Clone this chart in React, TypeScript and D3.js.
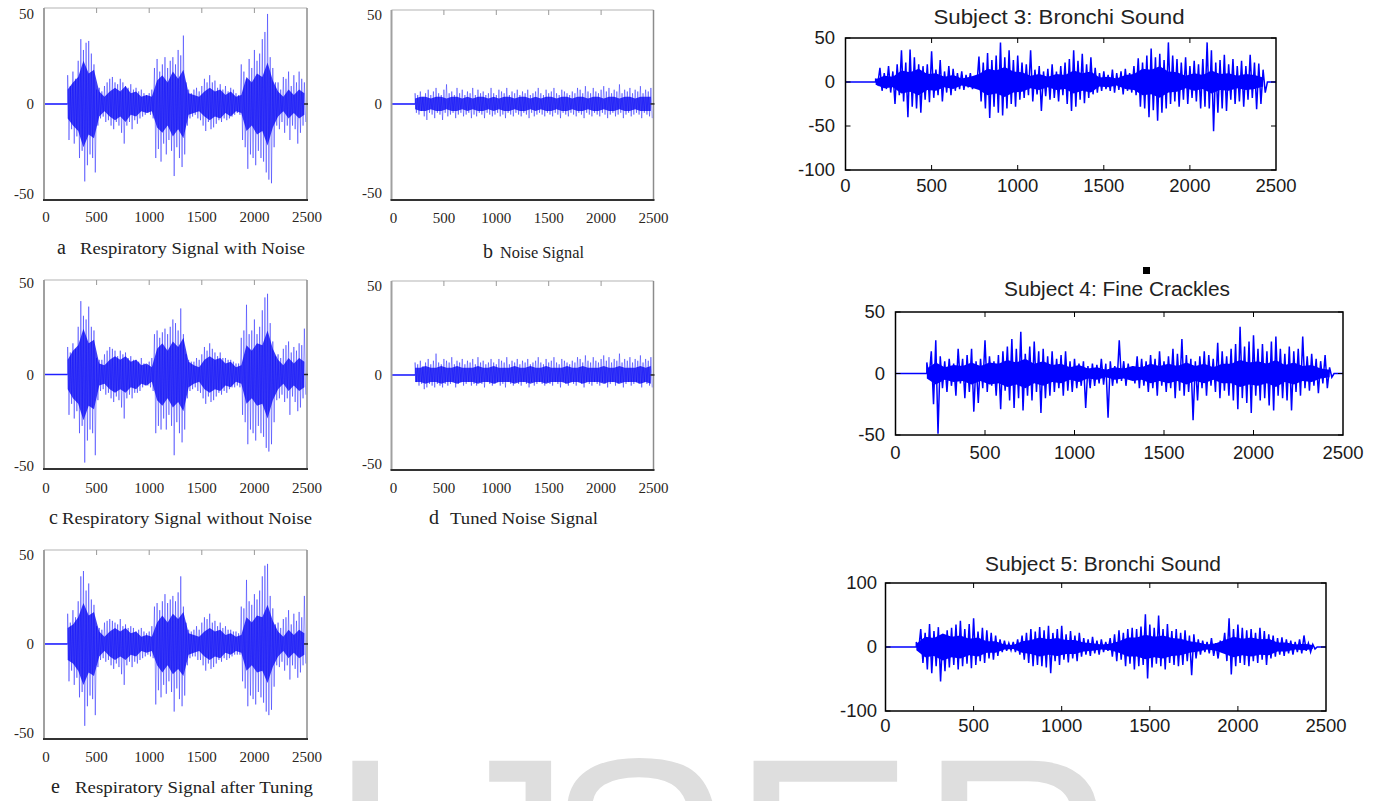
import React from 'react';
import * as d3 from 'd3';

// sample index ticks shared by every panel
const X_TICKS = [0, 500, 1000, 1500, 2000, 2500];
const LEFT_START = 225;   // first non-zero sample, left figures
const RIGHT_START = 175;  // first non-zero sample, subject plots
const RIGHT_END = 2450;
const BIN = 25;           // samples per min/max bin
const CORE_BIN = 50;

// a  Respiratory Signal with Noise  (max / min per bin, dense band half-width)
const aHi = [16, 10, 18, 14, 24, 36, 30, 34, 35, 28,
  22, 8, 9, 7, 10, 12, 14, 15, 12, 11,
  14, 12, 10, 9, 11, 8, 9, 7, 8, 6,
  5, 6, 8, 20, 25, 18, 22, 26, 20, 24,
  26, 22, 30, 27, 38, 12, 8, 6, 8, 9,
  7, 10, 14, 12, 16, 12, 13, 9, 11, 8,
  10, 7, 9, 8, 6, 5, 22, 18, 14, 25,
  20, 30, 24, 28, 36, 40, 50, 26, 20, 12,
  12, 8, 15, 14, 18, 10, 16, 12, 18, 14, 12];
const aLo = [-20, -14, -22, -18, -30, -26, -43, -34, -28, -30,
  -38, -12, -8, -7, -10, -9, -12, -14, -10, -12,
  -16, -22, -12, -10, -14, -9, -11, -8, -7, -6,
  -5, -6, -8, -30, -25, -32, -22, -28, -20, -26,
  -40, -24, -30, -35, -28, -12, -8, -7, -6, -8,
  -9, -12, -15, -10, -14, -13, -11, -9, -10, -8,
  -9, -8, -7, -6, -5, -6, -20, -24, -36, -28,
  -30, -34, -26, -30, -32, -38, -42, -44, -24, -12,
  -14, -10, -16, -12, -20, -12, -14, -22, -16, -12, -10];
const aCore = [8, 12, 15, 24, 17, 19, 7, 4, 7, 9, 7, 10, 6, 7, 4, 5, 4, 13, 16, 12, 18, 14, 19,
  6, 5, 4, 7, 9, 7, 8, 5, 7, 4, 5, 15, 12, 17, 15, 23, 13, 7, 4, 8, 5, 8, 6];

// b  Noise Signal
const bHi = [6, 5, 7, 4, 6, 8, 5, 7, 9, 6,
  5, 8, 11, 6, 7, 5, 9, 6, 8, 5,
  7, 6, 9, 5, 8, 6, 7, 5, 6, 9,
  6, 5, 8, 7, 6, 9, 5, 7, 6, 8,
  5, 7, 6, 8, 5, 6, 7, 9, 6, 5,
  8, 6, 7, 9, 6, 5, 8, 7, 6, 5,
  7, 6, 9, 8, 6, 10, 7, 6, 9, 7,
  6, 8, 10, 7, 9, 6, 8, 7, 11, 6,
  8, 7, 9, 6, 8, 7, 10, 6, 8, 7, 9];
const bLo = [-5, -6, -4, -7, -9, -5, -6, -8, -5, -6,
  -9, -5, -7, -6, -5, -8, -6, -5, -7, -6,
  -5, -8, -6, -7, -5, -6, -8, -5, -6, -7,
  -6, -5, -7, -6, -8, -5, -6, -7, -5, -6,
  -7, -5, -6, -8, -5, -7, -6, -5, -6, -7,
  -5, -6, -7, -5, -6, -8, -5, -6, -7, -5,
  -6, -7, -5, -6, -8, -5, -6, -7, -5, -6,
  -7, -5, -6, -8, -6, -5, -7, -6, -5, -8,
  -6, -5, -7, -6, -5, -6, -8, -5, -6, -7, -8];
const bCore = [3, 4, 4, 3, 4, 4, 3, 4, 4, 3, 4, 3, 4, 4, 3, 4, 3, 4, 4, 3, 4, 4, 3,
  4, 3, 4, 4, 3, 4, 4, 3, 4, 4, 3, 4, 4, 3, 4, 4, 3, 4, 4, 3, 4, 4, 4];

// c  Respiratory Signal without Noise
const cHi = [15, 12, 17, 14, 26, 40, 32, 30, 37, 26,
  24, 9, 8, 8, 11, 13, 15, 14, 13, 10,
  13, 11, 12, 9, 10, 8, 8, 7, 9, 6,
  5, 7, 9, 22, 24, 20, 23, 25, 22, 26,
  30, 28, 24, 36, 22, 11, 8, 7, 7, 9,
  8, 11, 15, 13, 17, 14, 12, 10, 12, 9,
  9, 8, 8, 7, 6, 6, 20, 24, 38, 22,
  24, 30, 22, 26, 35, 42, 44, 28, 18, 10,
  11, 9, 14, 16, 18, 12, 15, 13, 17, 16, 25];
const cLo = [-22, -16, -24, -20, -32, -28, -48, -36, -30, -32,
  -44, -14, -9, -8, -11, -10, -13, -15, -12, -14,
  -18, -24, -13, -11, -13, -10, -10, -9, -7, -6,
  -6, -7, -9, -32, -28, -30, -24, -30, -22, -28,
  -44, -26, -32, -37, -30, -13, -9, -8, -7, -9,
  -10, -13, -16, -12, -15, -14, -12, -10, -11, -9,
  -10, -8, -7, -7, -6, -7, -22, -26, -38, -30,
  -32, -36, -28, -32, -34, -40, -42, -38, -26, -14,
  -13, -11, -15, -13, -22, -12, -15, -20, -18, -13, -11];
const cCore = [8, 13, 16, 25, 17, 19, 6, 5, 8, 10, 8, 10, 7, 8, 5, 6, 4, 14, 17, 13, 18, 15, 20,
  7, 5, 4, 8, 10, 8, 9, 6, 7, 4, 5, 16, 13, 17, 16, 24, 14, 8, 5, 9, 6, 9, 7];

// d  Tuned Noise Signal
const dHi = [7, 6, 8, 5, 7, 9, 6, 8, 12, 7,
  6, 9, 8, 7, 10, 6, 8, 7, 9, 6,
  8, 7, 9, 6, 10, 7, 8, 6, 7, 9,
  7, 6, 9, 8, 7, 10, 6, 8, 7, 9,
  6, 8, 7, 9, 6, 7, 8, 10, 7, 6,
  9, 7, 8, 10, 7, 6, 9, 8, 7, 6,
  8, 7, 10, 9, 7, 11, 8, 7, 10, 8,
  7, 9, 11, 8, 10, 7, 9, 8, 12, 7,
  9, 8, 10, 7, 9, 8, 11, 7, 9, 8, 10];
const dLo = [-4, -6, -5, -8, -7, -5, -6, -7, -5, -6,
  -7, -5, -6, -5, -4, -7, -5, -4, -6, -5,
  -4, -6, -5, -6, -4, -5, -7, -4, -5, -6,
  -5, -4, -6, -5, -7, -4, -5, -6, -4, -5,
  -6, -4, -5, -7, -4, -6, -5, -4, -5, -6,
  -4, -5, -6, -4, -5, -7, -4, -5, -6, -4,
  -5, -6, -4, -5, -7, -4, -5, -6, -4, -5,
  -6, -4, -5, -7, -5, -4, -6, -5, -4, -7,
  -5, -4, -6, -5, -4, -5, -7, -4, -5, -6, -7];
const dCore = [4, 4, 5, 4, 4, 5, 4, 4, 5, 4, 4, 4, 5, 4, 4, 5, 4, 4, 4, 5, 4, 4, 5,
  4, 4, 5, 4, 4, 4, 5, 4, 4, 5, 4, 4, 4, 5, 4, 4, 5, 4, 4, 4, 5, 4, 5];

// e  Respiratory Signal after Tuning
const eHi = [17, 12, 19, 15, 24, 38, 41, 30, 34, 25,
  22, 10, 9, 8, 12, 13, 14, 13, 12, 11,
  14, 10, 11, 9, 10, 9, 7, 8, 9, 7,
  6, 7, 10, 21, 23, 19, 24, 28, 23, 25,
  27, 24, 29, 38, 21, 12, 8, 7, 8, 10,
  8, 12, 15, 14, 17, 12, 13, 10, 12, 9,
  10, 8, 8, 7, 7, 6, 21, 20, 36, 24,
  22, 28, 25, 30, 38, 44, 45, 27, 20, 11,
  12, 9, 14, 15, 19, 11, 17, 13, 18, 15, 27];
const eLo = [-21, -15, -23, -19, -30, -27, -46, -35, -29, -31,
  -40, -13, -9, -8, -10, -9, -12, -14, -11, -13,
  -17, -23, -12, -10, -13, -10, -11, -9, -8, -7,
  -6, -7, -8, -34, -26, -30, -23, -28, -21, -27,
  -38, -25, -31, -35, -29, -12, -8, -7, -7, -9,
  -9, -12, -15, -11, -14, -13, -11, -9, -10, -8,
  -9, -8, -7, -6, -6, -6, -21, -25, -35, -29,
  -31, -34, -27, -30, -33, -38, -40, -37, -24, -12,
  -13, -10, -15, -12, -20, -12, -14, -19, -16, -12, -11];
const eCore = [9, 11, 15, 23, 16, 18, 7, 4, 7, 9, 7, 9, 6, 7, 4, 5, 4, 12, 16, 12, 17, 14, 18,
  6, 5, 4, 7, 9, 7, 8, 5, 6, 4, 5, 15, 12, 16, 15, 22, 13, 7, 4, 8, 5, 8, 6];

// Subject 3: Bronchi Sound
const s3Hi = [4, 16, 10, 18, 12, 20, 36, 22, 37, 28,
  20, 18, 20, 35, 14, 25, 12, 18, 15, 10,
  12, 8, 10, 6, 29, 22, 33, 25, 30, 45,
  28, 36, 25, 30, 22, 20, 36, 14, 18, 12,
  15, 20, 12, 18, 22, 26, 36, 24, 32, 20,
  28, 16, 10, 12, 8, 14, 10, 12, 15, 10,
  18, 27, 22, 30, 38, 28, 32, 25, 45, 30,
  26, 22, 28, 18, 24, 20, 26, 45, 36, 22,
  25, 31, 20, 26, 18, 24, 18, 31, 22, 21, 14];
const s3Lo = [-2, -10, -8, -12, -25, -15, -22, -40, -28, -30,
  -35, -20, -23, -18, -15, -22, -12, -15, -10, -8,
  -9, -6, -8, -5, -22, -30, -41, -28, -35, -38,
  -30, -25, -28, -20, -18, -15, -22, -14, -33, -16,
  -20, -18, -22, -15, -25, -33, -28, -20, -24, -18,
  -14, -12, -10, -8, -10, -12, -9, -14, -10, -12,
  -15, -28, -30, -40, -32, -44, -35, -30, -25, -22,
  -28, -20, -25, -18, -22, -30, -28, -30, -56, -35,
  -30, -33, -20, -25, -22, -28, -20, -18, -31, -25, -12];
const s3Core = [3, 7, 6, 13, 11, 15, 9, 10, 6, 8, 4, 6, 9, 15, 13, 17, 12, 11, 7, 9, 6, 9, 8,
  13, 10, 12, 5, 6, 4, 8, 9, 15, 14, 18, 12, 11, 7, 10, 8, 13, 9, 10, 7, 9, 8, 5];

// Subject 4: Fine Crackles
const s4Hi = [9, 18, 27, 14, 10, 12, 8, 20, 12, 15,
  20, 10, 12, 27, 14, 10, 15, 18, 22, 28,
  20, 34, 16, 22, 26, 18, 20, 14, 18, 12,
  15, 18, 10, 12, 8, 10, 6, 8, 7, 12,
  8, 10, 6, 27, 10, 8, 6, 14, 12, 10,
  15, 12, 18, 10, 14, 20, 16, 28, 15, 12,
  10, 14, 18, 15, 12, 25, 18, 14, 20, 24,
  38, 22, 26, 31, 20, 24, 18, 26, 30, 20,
  16, 22, 18, 20, 30, 14, 16, 12, 10, 15, 5];
const s4Lo = [-4, -25, -49, -12, -15, -10, -18, -8, -20, -15,
  -31, -24, -12, -15, -10, -18, -29, -14, -22, -28,
  -20, -30, -18, -22, -15, -32, -20, -18, -15, -12,
  -18, -14, -15, -12, -10, -28, -12, -10, -8, -9,
  -36, -10, -8, -6, -10, -5, -8, -12, -10, -15,
  -12, -18, -10, -15, -12, -20, -14, -18, -15, -38,
  -22, -12, -18, -10, -15, -20, -14, -18, -22, -29,
  -20, -24, -32, -18, -22, -20, -26, -30, -18, -20,
  -22, -30, -15, -18, -12, -14, -10, -16, -8, -12, -3];
const s4Core = [4, 9, 5, 7, 6, 9, 6, 9, 8, 11, 9, 12, 8, 10, 7, 8, 5, 7, 4, 5, 3, 5, 4,
  6, 5, 8, 6, 8, 6, 9, 6, 8, 5, 8, 8, 11, 9, 10, 8, 11, 7, 9, 6, 7, 4, 3];

// Subject 5: Bronchi Sound
const s5Hi = [8, 28, 22, 36, 25, 31, 20, 26, 30, 35,
  41, 28, 36, 45, 24, 30, 26, 22, 18, 12,
  10, 6, 8, 12, 18, 22, 28, 24, 31, 26,
  33, 22, 28, 33, 20, 25, 18, 22, 14, 12,
  16, 10, 12, 8, 14, 20, 26, 22, 28, 30,
  28, 32, 51, 35, 30, 49, 28, 36, 25, 28,
  22, 26, 18, 20, 12, 10, 8, 14, 6, 10,
  22, 45, 28, 35, 30, 26, 28, 22, 30, 25,
  20, 18, 14, 15, 12, 10, 8, 12, 18, 6, 4];
const s5Lo = [-6, -25, -35, -41, -30, -54, -38, -32, -28, -35,
  -30, -26, -33, -28, -22, -25, -18, -20, -14, -8,
  -6, -5, -8, -12, -20, -25, -30, -28, -30, -32,
  -41, -22, -28, -20, -24, -18, -22, -15, -12, -14,
  -10, -12, -8, -6, -15, -22, -20, -30, -26, -35,
  -30, -28, -49, -32, -26, -30, -35, -25, -28, -30,
  -28, -22, -44, -18, -12, -8, -10, -14, -18, -8,
  -22, -43, -30, -25, -28, -30, -22, -25, -20, -28,
  -18, -15, -12, -14, -10, -12, -8, -10, -6, -8, -3];
const s5Core = [5, 16, 14, 21, 16, 18, 13, 15, 9, 9, 4, 3, 9, 11, 15, 12, 14, 11, 11, 7, 6, 4, 5,
  9, 15, 15, 19, 16, 18, 14, 13, 9, 7, 4, 6, 11, 16, 13, 15, 12, 13, 7, 7, 4, 5, 3];

const SERIF = '"Liberation Serif", "Times New Roman", serif';
const SANS = '"Liberation Sans", Arial, sans-serif';

function zigzag(hi: number[], lo: number[], start: number) {
  const pts: [number, number][] = [[0, 0], [start, 0]];
  hi.forEach((h, i) => {
    pts.push([start + i * BIN, h]);
    pts.push([start + i * BIN + BIN / 2, lo[i]]);
  });
  return pts;
}

function coreArea(x: d3.ScaleLinear<number, number>, y: d3.ScaleLinear<number, number>, start: number) {
  return d3.area<number>()
    .x((_, j) => x(start + j * CORE_BIN))
    .y0(c => y(-c)).y1(c => y(c));
}

type LeftProps = {
  x0: number; x1: number; top: number; bottom: number;
  yMin: number; yMax: number; yLabelX: number; xLabelY: number;
  hi: number[]; lo: number[]; core: number[];
  letter: string; letterX: number; caption: string; capX: number; capW: number; capY: number;
};

function LeftPanel(p: LeftProps) {
  const x = d3.scaleLinear().domain([0, 2500]).range([p.x0, p.x1]);
  const y = d3.scaleLinear().domain([p.yMin, p.yMax]).range([p.bottom, p.top]);
  const line = d3.line<[number, number]>().x(d => x(d[0])).y(d => y(d[1]));
  const area = coreArea(x, y, LEFT_START);
  return (
    <g>
      <clipPath id={'clip' + p.letter}>
        <rect x={p.x0} y={p.top} width={p.x1 - p.x0} height={p.bottom - p.top} />
      </clipPath>
      <line x1={p.x0} x2={p.x1} y1={p.top} y2={p.top} stroke="#b4b4b4" strokeWidth={1.2} />
      <line x1={p.x1} x2={p.x1} y1={p.top} y2={p.bottom} stroke="#8c8c8c" strokeWidth={1.5} />
      {X_TICKS.slice(1, 5).map(t => (
        <line key={t} x1={x(t)} x2={x(t)} y1={p.top} y2={p.top + 5} stroke="#999" strokeWidth={1} />
      ))}
      <g clipPath={`url(#clip${p.letter})`}>
        <path d={area(p.core) || ''} fill="#0000f0" opacity={0.75} />
        <path d={line(zigzag(p.hi, p.lo, LEFT_START)) || ''} fill="none" stroke="#0000ff"
          strokeWidth={0.8} strokeOpacity={0.5} />
        <line x1={x(0)} x2={x(LEFT_START)} y1={y(0)} y2={y(0)} stroke="#2020ff" strokeWidth={1.5} />
      </g>
      <line x1={p.x1 - 3} x2={p.x1 + 1} y1={y(0)} y2={y(0)} stroke="#222" strokeWidth={1.5} />
      <line x1={p.x0} x2={p.x0} y1={p.top} y2={p.bottom} stroke="#a0a0a0" strokeWidth={2} />
      <line x1={p.x0 - 1} x2={p.x1 + 1} y1={p.bottom} y2={p.bottom} stroke="#333" strokeWidth={2} />
      {[50, 0, -50].map(v => (
        <text key={v} x={p.yLabelX} y={y(v) + 5} textAnchor="end" fontFamily={SERIF}
          fontSize={15} fill="#2a2520">{v}</text>
      ))}
      {X_TICKS.map(t => (
        <text key={t} x={x(t) + (t === 0 ? 2 : 0)} y={p.xLabelY} textAnchor="middle" fontFamily={SERIF}
          fontSize={15} fill="#2a2520">{t}</text>
      ))}
      <text x={p.letterX} y={p.capY} fontFamily={SERIF} fontSize={20} fill="#222">{p.letter}</text>
      <text x={p.capX} y={p.capY} fontFamily={SERIF} fontSize={17} fill="#222"
        textLength={p.capW} lengthAdjust="spacingAndGlyphs">{p.caption}</text>
    </g>
  );
}

type RightProps = {
  id: string; x0: number; x1: number; top: number; bottom: number;
  yDom: [number, number]; yTicks: number[]; yLabelX: number; xLabelY: number;
  hi: number[]; lo: number[]; core: number[];
  title: string; titleX: number; titleY: number; titleW: number;
};

function RightPanel(p: RightProps) {
  const x = d3.scaleLinear().domain([0, 2500]).range([p.x0, p.x1]);
  const y = d3.scaleLinear().domain(p.yDom).range([p.bottom, p.top]);
  const line = d3.line<[number, number]>().x(d => x(d[0])).y(d => y(d[1]));
  const area = coreArea(x, y, RIGHT_START);
  const pts = zigzag(p.hi, p.lo, RIGHT_START);
  pts.push([RIGHT_END, 0], [2500, 0]);
  return (
    <g>
      <clipPath id={'clip' + p.id}>
        <rect x={p.x0} y={p.top} width={p.x1 - p.x0} height={p.bottom - p.top} />
      </clipPath>
      <g clipPath={`url(#clip${p.id})`}>
        <path d={area(p.core) || ''} fill="#0000ff" />
        <path d={line(pts) || ''} fill="none" stroke="#0000ff" strokeWidth={1.5} />
      </g>
      <rect x={p.x0} y={p.top} width={p.x1 - p.x0} height={p.bottom - p.top} fill="none"
        stroke="#000" strokeWidth={1.5} />
      {X_TICKS.slice(1, 5).map(t => (
        <g key={t} stroke="#000" strokeWidth={1}>
          <line x1={x(t)} x2={x(t)} y1={p.bottom} y2={p.bottom - 5} />
          <line x1={x(t)} x2={x(t)} y1={p.top} y2={p.top + 5} />
        </g>
      ))}
      {p.yTicks.map(v => (
        <g key={v} stroke="#000" strokeWidth={1}>
          <line x1={p.x0} x2={p.x0 + 5} y1={y(v)} y2={y(v)} />
          <line x1={p.x1} x2={p.x1 - 5} y1={y(v)} y2={y(v)} />
        </g>
      ))}
      {p.yTicks.map(v => (
        <text key={v} x={p.yLabelX} y={y(v) + 6} textAnchor="end" fontFamily={SANS}
          fontSize={18.5} fill="#1a1a1a">{v}</text>
      ))}
      {X_TICKS.map(t => (
        <text key={t} x={x(t)} y={p.xLabelY} textAnchor="middle" fontFamily={SANS}
          fontSize={18.5} fill="#1a1a1a">{t}</text>
      ))}
      <text x={p.titleX} y={p.titleY} textAnchor="middle" fontFamily={SANS} fontSize={19.5}
        fill="#222" textLength={p.titleW} lengthAdjust="spacingAndGlyphs">{p.title}</text>
    </g>
  );
}

export default function App() {
  return (
    <svg width={1373} height={801} style={{ position: 'absolute', left: 0, top: 0, background: '#fff' }}>
      <rect width={1373} height={801} fill="#fff" />
      {/* watermark */}
      <g fontFamily={SANS} fontSize={275} fill="#dedede">
        <text x={327} y={950}>I</text>
        <text x={434} y={950}>J</text>
        <text x={546} y={950}>S</text>
        <text x={731} y={950}>E</text>
        <text x={919} y={950}>R</text>
      </g>

      <LeftPanel x0={44} x1={307} top={8} bottom={200} yMin={-53.3} yMax={53.3} yLabelX={34} xLabelY={222}
        hi={aHi} lo={aLo} core={aCore} letter="a" letterX={57} caption="Respiratory Signal with Noise"
        capX={80} capW={225} capY={254} />
      <LeftPanel x0={391.5} x1={653.5} top={10} bottom={200} yMin={-54} yMax={52.8} yLabelX={382} xLabelY={223}
        hi={bHi} lo={bLo} core={bCore} letter="b" letterX={483} caption="Noise Signal"
        capX={500} capW={84} capY={258} />
      <LeftPanel x0={44} x1={307} top={280} bottom={469} yMin={-51.5} yMax={51.5} yLabelX={34} xLabelY={493}
        hi={cHi} lo={cLo} core={cCore} letter="c" letterX={49} caption="Respiratory Signal without Noise"
        capX={62} capW={250} capY={524} />
      <LeftPanel x0={391.5} x1={653.5} top={281} bottom={470} yMin={-53.4} yMax={52.8} yLabelX={382} xLabelY={493}
        hi={dHi} lo={dLo} core={dCore} letter="d" letterX={429} caption="Tuned Noise Signal"
        capX={450} capW={148} capY={524} />
      <LeftPanel x0={44} x1={307} top={550} bottom={739} yMin={-53.4} yMax={52.8} yLabelX={34} xLabelY={762}
        hi={eHi} lo={eLo} core={eCore} letter="e" letterX={51} caption="Respiratory Signal after Tuning"
        capX={75} capW={238} capY={793} />

      <RightPanel id="s3" x0={845.5} x1={1276} top={38} bottom={170} yDom={[-100, 50]} yTicks={[-100, -50, 0, 50]}
        yLabelX={835} xLabelY={192} hi={s3Hi} lo={s3Lo} core={s3Core}
        title="Subject 3: Bronchi Sound" titleX={1059} titleY={24} titleW={251} />
      <RightPanel id="s4" x0={895.5} x1={1343} top={312} bottom={435} yDom={[-50, 50]} yTicks={[-50, 0, 50]}
        yLabelX={885} xLabelY={459} hi={s4Hi} lo={s4Lo} core={s4Core}
        title="Subject 4: Fine Crackles" titleX={1117} titleY={296} titleW={226} />
      <RightPanel id="s5" x0={885.5} x1={1326} top={583} bottom={711} yDom={[-100, 100]} yTicks={[-100, 0, 100]}
        yLabelX={877} xLabelY={732} hi={s5Hi} lo={s5Lo} core={s5Core}
        title="Subject 5: Bronchi Sound" titleX={1103} titleY={571} titleW={236} />
      <rect x={1143} y={267} width={7} height={7} fill="#000" />
    </svg>
  );
}
